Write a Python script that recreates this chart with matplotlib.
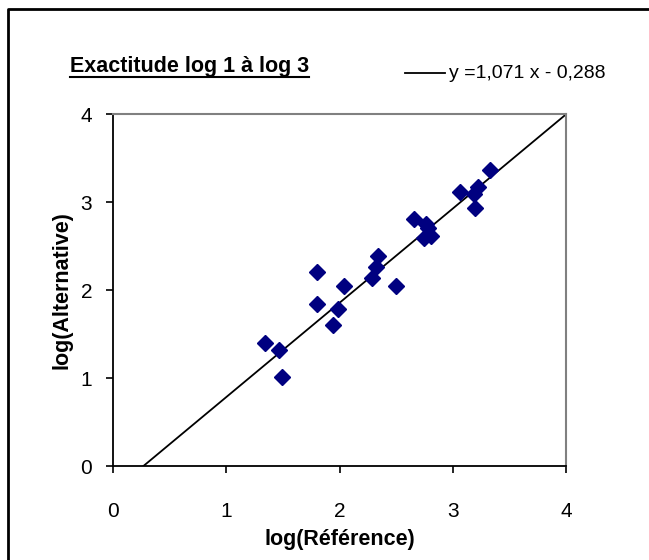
import matplotlib.pyplot as plt
from matplotlib.lines import Line2D
import numpy as np

plt.rcParams['font.family'] = ['Liberation Sans', 'DejaVu Sans']

# log(Référence) vs log(Alternative)
x_ref = [3.33, 3.22, 3.06, 3.19, 3.20, 2.66, 2.76, 2.78, 2.75, 2.81, 2.34,
         2.32, 2.29, 2.50, 2.04, 1.80, 1.80, 1.99, 1.94, 1.34, 1.47, 1.49]
y_alt = [3.36, 3.17, 3.11, 3.09, 2.93, 2.81, 2.75, 2.71, 2.59, 2.61, 2.39,
         2.26, 2.14, 2.04, 2.04, 2.20, 1.84, 1.78, 1.60, 1.40, 1.32, 1.01]
slope = 1.071
intercept = -0.288
ticks = [0, 1, 2, 3, 4]

fig = plt.figure(figsize=(6.49, 5.60), dpi=100)
ax = fig.add_axes([113 / 649, 1 - 466 / 560, 453 / 649, 352 / 560])

# regression line, from where it crosses y=0 to x=4
xl = np.array([-intercept / slope, 4])
ax.plot(xl, slope * xl + intercept, color='black', lw=1.3)
ax.plot(x_ref, y_alt, 'D', color='#000080', ms=8.5, mec='#000080')

ax.set_xlim(0, 4)
ax.set_ylim(0, 4)
ax.set_xticks(ticks)
ax.set_yticks(ticks)
ax.tick_params(direction='out', length=5, width=1.2, labelsize=15)
ax.tick_params(axis='x', pad=21)
ax.tick_params(axis='y', pad=10)
for s in ['left', 'bottom']:
    ax.spines[s].set_linewidth(1.3)
for s in ['top', 'right']:
    ax.spines[s].set_color('#808080')
    ax.spines[s].set_linewidth(1.5)

ax.set_xlabel('log(Référence)', fontsize=15.5, fontweight='bold', va='center')
ax.set_ylabel('log(Alternative)', fontsize=15.5, fontweight='bold', va='center')
ax.xaxis.set_label_coords(0.5, -(539 - 466) / 352)
ax.yaxis.set_label_coords(-(113 - 62) / 453, 0.5)

# title, bold and underlined
t = fig.text(70 / 649, 1 - 72 / 560, 'Exactitude log 1 à log 3', fontsize=15.5,
             fontweight='bold', ha='left', va='baseline')
fig.canvas.draw()
bb = t.get_window_extent().transformed(fig.transFigure.inverted())
fig.add_artist(Line2D([bb.x0, bb.x1], [1 - 77 / 560] * 2, color='black', lw=1.5))

# legend entry
fig.add_artist(Line2D([405 / 649, 445 / 649], [1 - 73 / 560] * 2, color='black', lw=1.3))
fig.text(449 / 649, 1 - 73 / 560, 'y =1,071 x - 0,288', fontsize=14,
         ha='left', va='center')

# outer frame (left and top edges visible)
fig.add_artist(Line2D([8 / 649, 8 / 649, 1.01], [-0.01, 1 - 9 / 560, 1 - 9 / 560],
                      color='black', lw=2))

fig.savefig('out.png', dpi=100)
